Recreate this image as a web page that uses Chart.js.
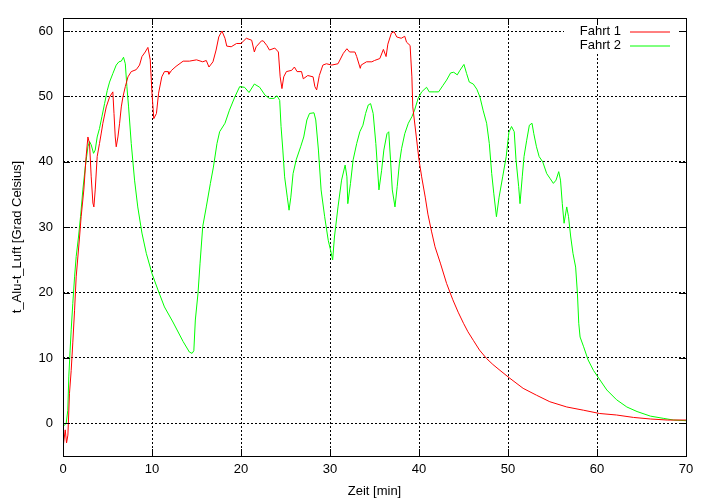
<!DOCTYPE html>
<html>
<head>
<meta charset="utf-8">
<title>Fahrt 1 / Fahrt 2</title>
<script src="https://cdn.jsdelivr.net/npm/chart.js@4/dist/chart.umd.min.js"></script>
<style>
  html, body { margin: 0; padding: 0; background: #ffffff; }
  canvas { display: block; }
</style>
</head>
<body>
<canvas id="tempChart" width="713" height="500"></canvas>
<script>
// Text Strings
xAxisLabel = "Zeit [min]";
yAxisLabel = "t_Alu-t_Luft [Grad Celsius]";
labelFahrt1 = "Fahrt 1";
labelFahrt2 = "Fahrt 2";

// Colors
colorFahrt1 = "#ff0000";
colorFahrt2 = "#00ff00";

// Tick values
xTicks = [0, 10, 20, 30, 40, 50, 60, 70];
yTicks = [0, 10, 20, 30, 40, 50, 60];

// Fahrt 1 (time in min, temperature difference)
fahrt1X = [0, 0.25, 0.4, 0.55, 0.73, 0.92, 1.1, 1.3, 1.48, 1.86, 2.04, 2.34, 2.6, 2.8, 2.98,
    3.17, 3.36, 3.47, 3.62, 3.84, 4.1, 4.3, 4.48, 4.86, 5.23, 5.6, 5.73, 5.87, 5.98, 6.17,
    6.36, 6.55, 6.73, 7.0, 7.3, 7.67, 8.23, 8.6, 8.87, 9.24, 9.54, 9.8, 10.0, 10.2, 10.5,
    10.74, 11.1, 11.4, 11.8, 11.9, 12.2, 12.7, 13.5, 14.2, 15.0, 15.7, 16.1, 16.4, 16.85,
    17.2, 17.5, 17.86, 18.2, 18.4, 18.9, 19.5, 20.0, 20.6, 21.2, 21.5, 21.7, 22.3, 22.5,
    22.9, 23.2, 23.8, 24.2, 24.4, 24.6, 24.8, 25.1, 25.7, 26.0, 26.3, 26.8, 27.0, 27.5,
    28.1, 28.3, 28.5, 28.8, 29.2, 29.6, 30.2, 30.9, 31.5, 31.9, 32.2, 32.8, 33.0, 33.4,
    33.5, 34.1, 34.7, 35.0, 35.6, 36.0, 36.3, 36.5, 36.9, 37.2, 37.5, 38.0, 38.4, 38.6,
    39.0, 39.2, 39.3, 39.7, 40.0, 40.3, 40.7, 41.0, 41.4, 41.8, 42.4, 43.1, 43.8, 44.4,
    45.0, 45.5, 46.1, 46.8, 47.6, 48.3, 49.1, 50.2, 51.7, 53.2, 54.7, 56.6, 58.5, 60.3,
    62.2, 64.1, 66.0, 67.9, 70.0];
fahrt1Y = [-3.8, -1.0, -3.0, -1.8, 4.6, 8.1, 12.3, 17.3, 22.4, 28.5, 31.6, 35.7, 40.8, 43.8, 42.8,
    37.7, 33.7, 33.1, 35.7, 40.8, 42.8, 44.4, 45.9, 48.4, 49.9, 50.7, 47.4, 43.8, 42.3, 43.8,
    45.9, 48.4, 49.9, 51.5, 53.0, 53.8, 54.1, 54.8, 56.1, 56.8, 57.5, 55.6, 50.5, 46.6, 47.4,
    50.5, 53.0, 53.8, 53.8, 53.4, 54.0, 54.6, 55.4, 55.4, 55.6, 55.3, 55.5, 54.5, 55.3,
    57.1, 59.1, 60.0, 58.9, 57.7, 57.6, 58.1, 58.1, 58.9, 58.6, 56.8, 57.6, 58.5, 58.5,
    57.8, 57.1, 57.4, 56.8, 53.0, 51.2, 53.0, 53.8, 54.0, 54.5, 53.8, 53.8, 52.7, 53.2,
    53.0, 51.5, 51.0, 53.2, 54.8, 55.0, 54.8, 55.0, 56.6, 57.3, 56.8, 56.8, 56.1, 54.3,
    54.8, 55.3, 55.3, 55.5, 55.8, 57.2, 56.1, 58.0, 59.7, 59.9, 59.1, 58.9, 59.2, 58.3,
    57.8, 53.0, 48.4, 43.8, 40.3, 37.7, 34.6, 32.0, 29.4, 27.0, 24.5, 21.4, 18.9, 17.0,
    15.3, 14.0, 12.7, 11.2, 9.9, 9.0, 8.1, 6.9, 5.35, 4.3, 3.3, 2.5, 2.0, 1.5,
    1.27, 0.9, 0.66, 0.5, 0.5];

// Fahrt 2
fahrt2X = [0, 0.36, 0.54, 0.65, 0.8, 0.92, 1.1, 1.3, 1.48, 1.74, 1.97, 2.23, 2.5, 2.8, 2.98,
    3.17, 3.43, 3.62, 3.84, 4.1, 4.37, 4.67, 4.97, 5.23, 5.6, 5.98, 6.28, 6.55, 6.8, 7.0,
    7.18, 7.37, 7.67, 8.04, 8.4, 8.87, 9.36, 10.0, 10.67, 11.4, 12.35, 13.5, 14.2, 14.5,
    14.7, 14.87, 15.17, 15.4, 15.7, 16.1, 16.56, 16.9, 17.3, 17.6, 18.2, 18.7, 19.3, 19.85,
    20.4, 20.9, 21.5, 22.1, 22.7, 23.2, 23.7, 24.05, 24.35, 24.5, 24.7, 24.9, 25.2, 25.4,
    25.6, 25.85, 26.2, 26.7, 27.05, 27.4, 27.7, 28.2, 28.4, 28.7, 29.0, 29.4, 29.8, 30.06,
    30.3, 30.5, 30.9, 31.3, 31.7, 31.9, 32.0, 32.3, 32.6, 33.0, 33.35, 33.7, 34.0, 34.3,
    34.56, 34.85, 35.15, 35.3, 35.5, 35.8, 36.05, 36.4, 36.6, 36.8, 37.0, 37.3, 37.55, 37.8,
    38.04, 38.4, 38.8, 39.2, 39.5, 39.9, 40.3, 40.85, 41.15, 41.7, 42.2, 42.7, 43.1, 43.55,
    43.9, 44.3, 44.6, 45.05, 45.35, 45.65, 46.1, 46.5, 46.85, 47.2, 47.6, 47.9, 48.17, 48.4,
    48.7, 49.0, 49.4, 49.8, 50.1, 50.4, 50.7, 50.9, 51.2, 51.35, 51.6, 51.8, 52.1, 52.4,
    52.7, 52.9, 53.2, 53.5, 53.9, 54.35, 54.7, 55.1, 55.4, 55.7, 55.9, 56.1, 56.3, 56.6,
    56.8, 57.05, 57.3, 57.6, 57.8, 57.95, 58.1, 58.5, 59.0, 59.6, 60.2, 61.1, 62.2, 63.35,
    64.5, 66.0, 67.5, 68.6, 70.0];
fahrt2Y = [-0.5, 0, 2.0, 7.1, 11.2, 14.3, 18.3, 22.4, 25.5, 28.5, 31.6, 35.7, 39.2, 42.3, 43.1,
    42.6, 41.3, 41.8, 43.8, 45.1, 46.9, 48.9, 50.9, 52.2, 53.5, 54.8, 55.3, 55.4, 56.0, 55.0,
    51.5, 48.4, 42.8, 37.2, 33.1, 29.1, 26.0, 22.9, 20.4, 17.8, 15.5, 12.5, 10.9, 10.7,
    11.1, 15.8, 19.9, 24.5, 30.1, 33.1, 36.7, 39.2, 42.8, 44.6, 45.9, 47.9, 49.9, 51.5,
    51.4, 50.6, 51.9, 51.4, 50.2, 49.7, 49.7, 50.1, 49.4, 45.4, 41.8, 37.7, 34.6, 32.6,
    34.6, 38.2, 40.3, 42.3, 43.8, 46.4, 47.4, 47.5, 46.4, 41.8, 35.7, 31.6, 28.0, 26.5,
    25.0, 28.5, 33.1, 37.2, 39.5, 37.7, 33.6, 36.7, 40.3, 42.8, 44.6, 45.6, 47.4, 48.7,
    48.9, 47.4, 42.8, 39.8, 35.7, 38.7, 41.8, 44.3, 44.6, 40.3, 35.7, 33.1, 36.2, 39.8,
    42.0, 44.3, 45.9, 46.9, 47.9, 49.7, 50.7, 51.4, 50.7, 50.7, 50.7, 51.7, 52.5, 53.6,
    53.7, 53.3, 54.0, 54.9, 53.5, 52.2, 51.9, 51.1, 49.9, 47.9, 45.9, 42.8, 38.2, 35.2,
    31.6, 34.6, 37.7, 40.8, 44.5, 45.4, 44.6, 40.3, 36.2, 33.6, 37.7, 40.8, 43.3, 45.6,
    45.9, 44.3, 42.3, 40.8, 40.0, 38.2, 37.5, 36.7, 37.2, 38.5, 37.2, 33.6, 30.6, 33.1,
    31.6, 28.5, 26.0, 23.9, 19.9, 15.3, 13.2, 11.7, 9.7, 8.1, 6.9, 5.1, 3.6, 2.5,
    1.8, 1.1, 0.75, 0.5, 0.4];

var fontFamily = "'Liberation Sans', Arial, Helvetica, sans-serif";
Chart.defaults.font.family = fontFamily;
Chart.defaults.font.size = 13;
Chart.defaults.color = "#000000";

function toPoints(xs, ys) {
    var pts = [];
    for (var i = 0; i < xs.length; i++) {
        pts.push({x: xs[i], y: ys[i]});
    }
    return pts;
}

// gnuplot look: full border box, inward tick marks and a white key box
var gnuplotFrame = {
    id: 'gnuplotFrame',
    afterDraw: function(chart) {
        var ctx = chart.ctx;
        var a = chart.chartArea;
        var xs = chart.scales.x, ys = chart.scales.y;
        ctx.save();
        ctx.strokeStyle = "#000000";
        ctx.lineWidth = 1;

        // tick marks (mirrored)
        ctx.beginPath();
        xTicks.forEach(function(v) {
            var px = Math.round(xs.getPixelForValue(v)) + 0.5;
            ctx.moveTo(px, a.bottom); ctx.lineTo(px, a.bottom - 7);
            ctx.moveTo(px, a.top); ctx.lineTo(px, a.top + 7);
        });
        yTicks.forEach(function(v) {
            var py = Math.round(ys.getPixelForValue(v)) + 0.5;
            ctx.moveTo(a.left, py); ctx.lineTo(a.left + 7, py);
            ctx.moveTo(a.right, py); ctx.lineTo(a.right - 7, py);
        });
        ctx.stroke();

        // key
        ctx.fillStyle = "#ffffff";
        ctx.fillRect(a.right - 122, a.top + 7, 113, 27);
        ctx.font = "13px " + fontFamily;
        ctx.textAlign = "right";
        ctx.textBaseline = "middle";
        chart.data.datasets.forEach(function(ds, i) {
            var ky = a.top + 13.5 + i * 14;
            ctx.fillStyle = "#000000";
            ctx.fillText(ds.label, a.right - 65, ky);
            ctx.strokeStyle = ds.borderColor;
            ctx.beginPath();
            ctx.moveTo(a.right - 56, ky + 0.5);
            ctx.lineTo(a.right - 16, ky + 0.5);
            ctx.stroke();
        });

        // border
        ctx.strokeStyle = "#000000";
        ctx.strokeRect(a.left + 0.5, a.top + 0.5, a.right - a.left, a.bottom - a.top);
        ctx.restore();
    }
};

var chartCtx = document.getElementById('tempChart');

var tempChart = new Chart(chartCtx, {
    type: 'line',
    data: {
        datasets: [
            {label: labelFahrt1, data: toPoints(fahrt1X, fahrt1Y), borderColor: colorFahrt1,
                borderWidth: 1, pointRadius: 0, tension: 0, fill: false},
            {label: labelFahrt2, data: toPoints(fahrt2X, fahrt2Y), borderColor: colorFahrt2,
                borderWidth: 1, pointRadius: 0, tension: 0, fill: false}
        ]
    },
    options: {
        responsive: false,
        animation: false,
        devicePixelRatio: 1,
        layout: {padding: {left: 0, right: 27, top: 18, bottom: 0}},
        plugins: {
            legend: {display: false},
            tooltip: {enabled: false}
        },
        scales: {
            x: {
                type: 'linear',
                min: 0,
                max: 70,
                afterBuildTicks: function(s) { s.ticks = xTicks.map(function(v) { return {value: v}; }); },
                afterFit: function(s) { s.height = 44; },
                ticks: {padding: 6, maxRotation: 0, autoSkip: false},
                grid: {color: "#000000", lineWidth: 1, drawTicks: false},
                border: {display: false, dash: [2, 2]},
                title: {display: true, text: xAxisLabel, padding: {top: 0, bottom: 1}}
            },
            y: {
                type: 'linear',
                min: -5,
                max: 62,
                afterBuildTicks: function(s) { s.ticks = yTicks.map(function(v) { return {value: v}; }); },
                afterFit: function(s) { s.width = 63; },
                ticks: {padding: 10, autoSkip: false},
                grid: {color: "#000000", lineWidth: 1, drawTicks: false},
                border: {display: false, dash: [2, 2]},
                title: {display: true, text: yAxisLabel, padding: {top: 10, bottom: 0}}
            }
        }
    },
    plugins: [gnuplotFrame]
});
</script>
</body>
</html>
